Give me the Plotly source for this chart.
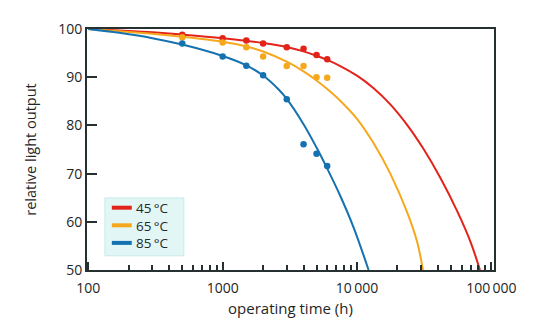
import plotly.graph_objects as go

# measured points (operating time in h, relative light output in %)
meas_t = [500, 1000, 1500, 2000, 3000, 4000, 5000, 6000]
meas_45 = [98.8, 98.1, 97.6, 97.0, 96.2, 95.9, 94.6, 93.7]
meas_65 = [98.3, 97.2, 96.2, 94.3, 92.3, 92.3, 90.0, 89.9]
meas_85 = [97.0, 94.3, 92.4, 90.4, 85.4, 76.1, 74.1, 71.6]

# fitted curves
fit45_t = [100, 200, 300, 500, 1000, 2000, 3000, 4000, 5000, 6000, 7500, 10000, 13300, 17700, 23600, 31400, 41900, 55700, 70100, 82300]
fit45_v = [100, 99.61, 99.31, 98.84, 98.09, 97.1, 96.25, 95.35, 94.45, 93.58, 92.32, 90.32, 87.72, 84.37, 80.12, 75.04, 69.04, 62.22, 55.8, 50.0]

fit65_t = [100, 200, 300, 500, 1000, 1500, 2000, 3000, 4000, 5000, 6000, 7500, 10000, 13300, 17700, 23600, 28000, 31000]
fit65_v = [100, 99.4, 99.0, 98.4, 97.35, 96.38, 95.32, 93.21, 91.21, 89.32, 87.54, 85.12, 81.37, 76.3, 70.0, 62.0, 55.9, 50.0]

fit85_t = [100, 170, 300, 500, 1000, 1500, 2000, 2600, 3000, 4000, 5000, 6000, 7500, 9440, 12200]
fit85_v = [100, 99.2, 98.1, 96.77, 94.4, 92.46, 90.34, 87.49, 85.5, 80.25, 75.4, 71.05, 65.4, 58.8, 50.0]

labels = ["45\u2009°C", "65\u2009°C", "85\u2009°C"]
colors = ["#e2231a", "#f6a81d", "#1572b0"]

x_ticks = [100, 1000, 10000, 100000]
x_ticktext = ["100", "1000", "10\u2009000", "100\u2009000"]
x_minor = [m * 10 ** e for e in (2, 3, 4) for m in range(2, 10)]
y_ticks = [50, 60, 70, 80, 90, 100]

fig = go.Figure()
fits = [(fit45_t, fit45_v), (fit65_t, fit65_v), (fit85_t, fit85_v)]
meas = [meas_45, meas_65, meas_85]
for (ft, fv), mv, lab, col in zip(fits, meas, labels, colors):
    fig.add_trace(go.Scatter(x=ft, y=fv, mode="lines", name=lab,
                             line=dict(color=col, width=2, shape="spline", smoothing=1.0),
                             showlegend=False, hoverinfo="skip"))
    fig.add_trace(go.Scatter(x=meas_t, y=mv, mode="markers", name=lab,
                             marker=dict(color=col, size=6.5), showlegend=False))

# legend box (paper coordinates of the plot area)
leg_x0, leg_x1, leg_y0, leg_y1 = 0.044, 0.238, 0.059, 0.299
sw_x0, sw_x1, txt_x = 0.061, 0.110, 0.117
row_y = [0.2585, 0.1855, 0.1125]
shapes = [dict(type="rect", xref="paper", yref="paper",
               x0=leg_x0, x1=leg_x1, y0=leg_y0, y1=leg_y1,
               fillcolor="#e3f6f6", line=dict(color="#c8eaea", width=1), layer="above")]
for col, ry in zip(colors, row_y):
    shapes.append(dict(type="line", xref="paper", yref="paper",
                       x0=sw_x0, x1=sw_x1, y0=ry, y1=ry,
                       line=dict(color=col, width=4), layer="above"))
annotations = [dict(text="<br>".join(labels), xref="paper", yref="paper",
                    x=txt_x, y=row_y[1], xanchor="left", yanchor="middle",
                    align="left", showarrow=False, borderpad=0,
                    font=dict(size=13.5, color="#1f2a2a"))]

axis_col = "#263030"
font = "Open Sans, Liberation Sans, Arial, sans-serif"
fig.update_layout(
    width=539, height=330,
    margin=dict(l=87, r=45, t=29, b=60),
    paper_bgcolor="white", plot_bgcolor="white",
    font=dict(family=font, color="#1f2626", size=14),
    showlegend=False,
    shapes=shapes, annotations=annotations,
    xaxis=dict(type="log", range=[1.99, 5.02],
               tickvals=x_ticks, ticktext=x_ticktext,
               ticks="inside", ticklen=8, tickwidth=1.5, tickcolor=axis_col,
               minor=dict(tickvals=x_minor, ticks="inside", ticklen=5,
                          tickwidth=1.5, tickcolor=axis_col),
               showline=True, linecolor=axis_col, linewidth=2, mirror=True,
               showgrid=False, zeroline=False, ticklabelstandoff=4,
               title=dict(text="operating time (h)", font=dict(size=15), standoff=8),
               tickfont=dict(size=14)),
    yaxis=dict(range=[50, 100], tickvals=y_ticks,
               ticks="inside", ticklen=10, tickwidth=2, tickcolor=axis_col,
               showline=True, linecolor=axis_col, linewidth=2, mirror=True,
               showgrid=False, zeroline=False,
               title=dict(text="relative light output", font=dict(size=14.5), standoff=18),
               tickfont=dict(size=14)),
)

fig.write_html("out.html")
